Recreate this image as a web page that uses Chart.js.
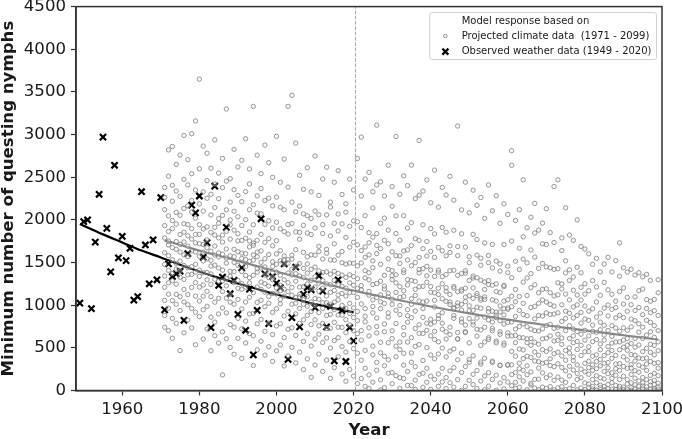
<!DOCTYPE html>
<html><head><meta charset="utf-8">
<script src="https://cdn.jsdelivr.net/npm/chart.js@4"></script>
<style>html,body{margin:0;padding:0;background:#fff}</style>
</head><body>
<canvas id="c" width="682" height="439" style="display:block;width:682px;height:439px"></canvas>
<script>
// ---------- DATA ----------
const xTicks = [1960, 1980, 2000, 2020, 2040, 2060, 2080, 2100];
const yTicks = [0, 500, 1000, 1500, 2000, 2500, 3000, 3500, 4000, 4500];
const cutoffYear = 2020.5;

const legendTitle = "Model response based on";
const legendProjected = "Projected climate data  (1971 - 2099)";
const legendObserved = "Observed weather data (1949 - 2020)";

// Observed weather data, one value per year from 1949 to 2020
const observedFirstYear = 1949;
const observedValues = [1025, 1980, 2000, 960, 1740, 2300, 2970, 1900, 1390, 2640,
  1555, 1807, 1523, 1667, 1060, 1100, 2330, 1706, 1251, 1765,
  1298, 2262, 945, 1485, 1336, 1368, 1398, 823, 1605, 2173,
  2083, 2280, 1562, 1733, 737, 2395, 1231, 1329, 1912, 1134,
  1290, 893, 1438, 706, 1188, 418, 940, 2013, 1368, 784,
  1336, 1258, 1205, 1485, 364, 855, 1445, 745, 1126, 1205,
  1181, 971, 1345, 1165, 745, 986, 348, 1298, 940, 340,
  738, 582];

// Fitted curve through observed data
const obsFitYears  = [1949, 1955, 1960, 1965, 1970, 1975, 1980, 1985, 1990, 1995, 2000, 2005, 2010, 2015, 2020];
const obsFitValues = [1952, 1830, 1735, 1640, 1560, 1475, 1395, 1320, 1255, 1190, 1125, 1070, 1012, 962, 916];

// Fitted curve through projected data
const projFitYears  = [1971, 1980, 1990, 2000, 2010, 2020, 2030, 2040, 2050, 2060, 2070, 2080, 2090, 2099];
const projFitValues = [1760, 1640, 1520, 1395, 1280, 1170, 1075, 985, 905, 830, 765, 705, 648, 598];

// Projected climate data: model runs per year (first array starts 1971)
const proj1970s = [
 [1615,2380,880,1342,1933,741,2120,1477,1056,1788,2264,1210],
 [2512,1129,1706,965,1863,2820,1408,702,1581,2047,1263,1752],
 [1370,2860,612,1898,1532,2219,1054,1675,2405,845,1287,1993],
 [1011,1746,2650,1423,788,2088,1655,1246,1951,2338,1489,1127],
 [2276,468,1517,1829,1099,2760,1328,1623,937,2054,1405,1714],
 [1590,2133,1185,676,2990,1466,1857,1038,2475,1302,1741,1955],
 [826,1692,2410,1355,1945,1124,2706,1570,1005,1813,2165,1438],
 [2541,1208,1776,733,2092,1451,3010,1635,1898,962,1362,2227],
 [1480,3160,918,1829,1265,2020,536,1624,2350,1107,1731,1389]];
const proj1980s = [
 [1944,1212,3650,1575,866,2188,1411,1720,2598,1049,1830,1338],
 [1106,2865,1519,1711,603,2103,1381,1893,946,2329,1237,1621],
 [2460,1384,987,1766,2781,1542,2254,1162,1918,720,1674,1298],
 [1632,466,2058,1245,1459,2606,859,1854,1101,2300,1526,1366],
 [1304,1913,802,2938,1469,1693,2144,1035,2421,1588,641,1822],
 [2249,1081,1567,1789,556,2548,1282,1961,1436,897,1613,2016],
 [1598,2721,1160,183,1821,1411,2053,968,2377,1285,1740,688],
 [1083,1866,3300,1313,2455,1494,910,2118,1658,1227,1553,607],
 [2208,1339,772,1579,1998,1125,2483,1396,1775,505,1942,1036],
 [1501,425,2827,1655,1264,2101,1012,1880,742,2354,1393,1568]];
const proj1990s = [
 [1198,2620,1626,846,1838,1469,2287,1068,1289,2037,612,1754],
 [2214,1548,376,1759,1187,2699,1395,957,1933,1253,723,1611],
 [1349,2951,1037,1603,2331,813,1786,1212,2003,557,1456,1535],
 [1514,1092,2597,1858,666,1322,2119,1683,897,2421,1261,1753],
 [1727,642,3330,1146,1944,1528,293,2178,1351,905,1589,1701],
 [1032,2758,1387,1567,477,2079,1761,1213,2282,782,1622,1428],
 [2367,1271,1636,834,2542,1058,1831,1438,578,2070,1186,1502],
 [1448,693,2227,1152,2876,1737,983,1356,1947,414,1544,1252],
 [1780,1224,2671,1397,788,2255,1024,1594,512,1989,1323,1102],
 [915,1905,1331,2498,1508,341,1696,1138,2165,656,1299,1454]];
const proj2000s = [
 [1387,2980,757,1756,1203,2267,958,1601,466,1972,1479,1133],
 [1521,1016,2441,1169,1895,783,1349,2149,534,1640,1232,1066],
 [1105,2713,873,1478,287,2118,1298,1577,620,1862,1530,1186],
 [2384,1158,404,1834,1377,3330,929,1945,1263,718,1533,1492],
 [1421,3460,1012,1208,2208,734,1586,506,1957,1355,1116,1540],
 [898,1651,2900,1281,323,1859,1090,2094,646,1454,1369,1023],
 [1773,1129,2523,450,1488,963,2162,1343,787,1854,1213,1096],
 [1010,2358,575,1619,1217,245,1936,1431,829,2071,1323,1062],
 [1376,665,2611,1100,1846,371,1483,988,2049,1248,1567,881],
 [1188,2329,521,1420,154,1828,927,1591,1037,2017,773,1291]];
const proj2010s = [
 [1586,996,2749,1212,604,2104,1447,298,1905,828,1334,1078],
 [1163,2286,660,1628,427,1690,1069,2060,913,1402,758,1259],
 [1384,785,2479,223,1541,1029,1199,1945,563,1840,1291,962],
 [2059,1109,617,2618,1391,357,1609,879,1655,1029,1250,726],
 [1531,892,2208,143,1364,1812,730,1151,498,2150,1003,1240],
 [1037,2441,799,1397,268,1720,1527,585,1173,1960,948,1290],
 [1586,395,2577,1063,1372,619,1870,885,2069,1120,742,1238],
 [883,1953,514,1497,1138,2298,193,1630,740,1353,998,1222],
 [1326,451,2189,1482,109,1795,962,678,2090,1107,830,1199],
 [2478,1021,573,1356,1680,247,1494,903,1925,768,1262,1147]];
const proj2020s = [
 [1149,490,1737,2351,856,1335,169,1988,700,1491,968,1234],
 [81,438,666,818,926,1092,1195,1310,1461,1707,1979,2720],
 [140,355,590,702,1015,1180,1230,1495,1640,1910,2280,2970],
 [48,260,470,805,870,960,1320,1405,1560,1683,2050,2479],
 [25,183,640,735,1118,1160,1297,1380,1590,1732,1850,2557],
 [98,418,520,910,985,1062,1242,1440,1520,1798,2140,2330],
 [237,330,675,750,850,1090,1254,1605,1700,1839,2410,3110],
 [5,125,443,565,960,1040,1120,1281,1480,1662,1960,2446],
 [33,290,400,690,780,1020,1190,1224,1350,1760,2020,2279],
 [203,360,560,860,910,1098,1140,1420,1545,1719,1880,2641]];
const proj2030s = [
 [79,210,609,700,1010,1070,1300,1345,1406,1626,2160,2390],
 [174,395,520,785,940,1150,1262,1356,1580,1840,2046,2978],
 [27,150,480,567,890,996,1090,1218,1490,1577,1760,2301],
 [140,298,436,653,739,1102,1170,1382,1411,1636,2049,2516],
 [60,223,568,800,876,948,1237,1300,1530,1648,1905,2402],
 [58,331,440,620,854,1010,1076,1290,1463,1699,1967,2642],
 [12,121,279,517,726,932,1113,1186,1279,1500,1779,2249],
 [189,537,670,771,1049,1216,1380,1418,1560,1760,2289,2931],
 [37,203,352,669,857,960,1037,1221,1428,1663,1942,2338],
 [97,261,503,706,789,1049,1269,1345,1455,1576,1746,2469]];
const proj2040s = [
 [12,168,417,641,778,836,1152,1219,1411,1631,1898,2201],
 [130,372,598,693,802,978,1057,1146,1338,1560,1836,2583],
 [49,193,428,571,842,880,1125,1199,1386,1411,1677,2149],
 [100,261,497,718,789,912,1076,1251,1334,1638,1911,2380],
 [23,151,393,603,687,1046,1163,1204,1359,1578,1856,2292],
 [91,230,461,656,742,1037,1008,1126,1403,1617,1696,2510],
 [40,268,487,879,972,846,960,1219,1200,1410,1878,2231],
 [128,360,602,606,681,991,1158,1027,1350,1581,1688,3100],
 [2,212,438,803,839,1010,943,1182,1164,1371,1837,2117],
 [48,281,690,679,767,1041,1199,1094,1376,1404,1681,2442]];
const proj2050s = [
 [119,331,363,558,937,844,1111,992,1290,1498,1568,2083],
 [69,190,407,802,769,1080,940,1202,1319,1341,1830,2348],
 [22,233,638,718,977,849,1112,1138,1322,1587,1770,2170],
 [111,309,333,528,710,1080,964,1060,1293,1468,1551,2262],
 [9,170,378,569,860,741,1097,1184,1068,1272,1730,2018],
 [51,209,618,598,961,826,922,1242,1289,1499,1583,2409],
 [129,329,344,727,701,802,1063,930,1234,1437,1712,2107],
 [2,180,579,559,855,919,882,1161,1048,1250,1517,2283],
 [89,293,296,688,659,921,818,1147,991,1400,1484,1960],
 [19,151,554,531,886,779,1048,959,1218,1233,1712,2188]];
const proj2060s = [
 [99,297,303,676,639,952,798,1064,967,1381,1458,2063],
 [2811,1752,301,982,56,640,1323,2640,458,187,1106,803],
 [720,25,1515,402,1993,868,211,1184,561,1040,96,645],
 [1102,487,2120,160,751,1418,38,939,320,1668,620,255],
 [2470,373,890,1271,112,618,1540,237,1021,782,476,1802],
 [184,1496,605,9,1113,402,1908,747,289,876,1319,560],
 [973,64,1370,529,2031,218,720,1205,388,610,1647,84],
 [2193,840,346,1564,131,987,1240,566,28,702,1846,452],
 [413,1145,8,1880,697,262,1431,880,543,133,1022,338],
 [1962,605,1186,40,873,319,1490,207,1061,724,478,1720]];
const proj2070s = [
 [151,1449,762,2131,457,910,23,1192,613,330,1037,1712],
 [1851,487,1146,46,775,292,1439,640,181,1009,372,892],
 [2391,119,896,1420,580,8,1108,431,1735,280,729,990],
 [313,1122,2470,742,31,1428,588,158,911,449,1263,660],
 [45,122,405,540,615,810,1005,1190,1250,1640,1789,270],
 [9,230,355,702,845,930,1130,1378,2141,95,470,1520],
 [170,285,440,499,760,1062,1290,1822,22,610,905,1415],
 [60,350,395,640,720,980,1175,1760,240,560,850,1330],
 [130,200,480,575,690,1120,1445,2000,9,300,880,1003],
 [30,250,410,530,790,915,1210,1689,150,660,1060,1380]];
const proj2080s = [
 [11,89,318,455,705,838,1251,1658,220,590,990,1130],
 [37,512,190,1602,344,823,75,640,1170,268,455,931],
 [402,15,766,1288,129,573,958,301,47,693,1479,236],
 [681,1549,256,92,1037,418,5,860,340,597,173,1214],
 [149,907,33,478,1390,712,288,62,1116,545,364,801],
 [1267,224,590,8,764,411,1483,135,966,320,47,650],
 [516,71,1180,327,20,874,1561,443,197,703,1002,266],
 [92,634,1389,208,952,15,469,1128,377,760,142,556],
 [851,310,11,1522,568,179,1047,60,412,733,254,972],
 [1731,478,129,694,21,1160,315,882,570,235,48,1340]];
const proj2090s = [
 [282,1014,40,590,1439,167,735,395,11,855,508,1202],
 [610,128,1388,471,9,929,260,1092,77,706,359,531],
 [33,746,304,1421,188,553,2,1005,421,90,837,262],
 [1353,413,67,818,232,1098,16,610,345,938,145,508],
 [215,973,7,533,1381,111,684,381,49,1170,296,782],
 [742,55,1189,274,889,19,456,1332,152,611,373,91],
 [380,1066,128,5,650,1361,236,823,44,494,962,310],
 [61,541,1290,340,16,799,177,1046,447,103,688,913],
 [935,201,22,1068,418,623,3,319,760,120,529,71],
 [262,1298,86,467,14,879,327,1145,570,173,702,40]];
const projectedBlocks = [[1971, proj1970s], [1980, proj1980s], [1990, proj1990s], [2000, proj2000s],
  [2010, proj2010s], [2020, proj2020s], [2030, proj2030s], [2040, proj2040s], [2050, proj2050s],
  [2060, proj2060s], [2070, proj2070s], [2080, proj2080s], [2090, proj2090s]];

// ---------- BUILD ----------
const projPoints = [];
projectedBlocks.forEach(([first, rows]) => rows.forEach((vals, i) => vals.forEach(v => projPoints.push({x: first + i, y: v}))));
const obsPoints = observedValues.map((v, i) => ({x: observedFirstYear + i, y: v}));
const obsFit = obsFitYears.map((x, i) => ({x, y: obsFitValues[i]}));
const projFit = projFitYears.map((x, i) => ({x, y: projFitValues[i]}));

const FONT = "'DejaVu Sans', sans-serif";
Chart.defaults.font.family = FONT;
Chart.defaults.color = '#1a1a1a';

const framePlugin = {
  id: 'frame',
  afterDraw(chart) {
    const {ctx, chartArea: a} = chart;
    ctx.save();
    ctx.strokeStyle = '#333';
    ctx.lineWidth = 1.5;
    ctx.strokeRect(a.left, a.top, a.right - a.left, a.bottom - a.top);
    ctx.restore();
  }
};

const legendPlugin = {
  id: 'customLegend',
  afterDraw(chart) {
    const {ctx, chartArea: a} = chart;
    ctx.save();
    ctx.font = "10px " + FONT;
    const tw = Math.max(ctx.measureText(legendTitle).width, ctx.measureText(legendProjected).width, ctx.measureText(legendObserved).width);
    const w = 32 + tw + 5, h = 47;
    const right = a.right - 5.5, top = a.top + 6;
    const left = right - w;
    ctx.beginPath();
    ctx.roundRect(left, top, w, h, 2.5);
    ctx.fillStyle = 'rgba(255,255,255,0.8)';
    ctx.fill();
    ctx.strokeStyle = '#d0d0d0';
    ctx.lineWidth = 1;
    ctx.stroke();
    ctx.fillStyle = '#1a1a1a';
    ctx.textBaseline = 'middle';
    ctx.textAlign = 'left';
    const tx = left + 32;
    ctx.fillText(legendTitle, tx, top + 8.5);
    ctx.fillText(legendProjected, tx, top + 23.5);
    ctx.fillText(legendObserved, tx, top + 39);
    const mx = left + 15.7;
    ctx.beginPath();
    ctx.arc(mx, top + 23.5, 1.8, 0, Math.PI * 2);
    ctx.fillStyle = 'rgba(230,230,230,0.4)';
    ctx.fill();
    ctx.strokeStyle = 'rgba(120,120,120,0.75)';
    ctx.lineWidth = 1;
    ctx.stroke();
    ctx.beginPath();
    const my = top + 39, d = 3;
    ctx.moveTo(mx - d, my - d); ctx.lineTo(mx + d, my + d);
    ctx.moveTo(mx - d, my + d); ctx.lineTo(mx + d, my - d);
    ctx.strokeStyle = '#000';
    ctx.lineWidth = 2.2;
    ctx.stroke();
    ctx.restore();
  }
};

new Chart(document.getElementById('c'), {
  type: 'scatter',
  data: {
    datasets: [
      {type: 'line', data: [{x: cutoffYear, y: yTicks[0]}, {x: cutoffYear, y: yTicks[yTicks.length - 1]}],
        borderColor: '#aaaaaa', borderWidth: 1, borderDash: [3.7, 1.6], pointRadius: 0, fill: false},
      {data: projPoints, pointStyle: 'circle', pointRadius: 2.2, pointBorderWidth: 1,
        pointBorderColor: 'rgba(120,120,120,0.75)', pointBackgroundColor: 'rgba(235,235,235,0.3)'},
      {type: 'line', data: projFit, borderColor: '#888888', borderWidth: 2.2, pointRadius: 0,
        cubicInterpolationMode: 'monotone', fill: false},
      {type: 'line', data: obsFit, borderColor: '#000000', borderWidth: 2.2, pointRadius: 0,
        cubicInterpolationMode: 'monotone', fill: false},
      {data: obsPoints, pointStyle: 'crossRot', pointRadius: 4.4, pointBorderWidth: 2.2,
        pointBorderColor: '#000000', pointBackgroundColor: '#000000'}
    ]
  },
  options: {
    responsive: false, animation: false, devicePixelRatio: 1,
    layout: {padding: {top: 5.3, right: 20, left: 0, bottom: 0}},
    plugins: {legend: {display: false}, tooltip: {enabled: false}},
    scales: {
      x: {
        type: 'linear', min: 1948, max: 2100,
        afterBuildTicks: s => { s.ticks = xTicks.map(v => ({value: v})); },
        afterFit: s => { s.height = 48.5; s.paddingLeft = 0; s.paddingRight = 0; },
        ticks: {font: {size: 16.6}, color: '#1a1a1a', padding: 4, maxRotation: 0, autoSkip: false,
          callback: v => String(v)},
        grid: {drawOnChartArea: false, drawTicks: true, tickLength: 5, tickColor: '#333', tickWidth: 1.2},
        border: {display: true, color: '#333', width: 1.5},
        title: {display: true, text: 'Year', font: {size: 16.6, weight: 'bold', lineHeight: 1}, color: '#1a1a1a', padding: 0}
      },
      y: {
        type: 'linear', min: 0, max: 4500,
        afterBuildTicks: s => { s.ticks = yTicks.map(v => ({value: v})); },
        afterFit: s => { s.width = 76; s.paddingTop = 0; s.paddingBottom = 0; },
        ticks: {font: {size: 16.6}, color: '#1a1a1a', padding: 5, autoSkip: false, callback: v => String(v)},
        grid: {drawOnChartArea: false, drawTicks: true, tickLength: 5, tickColor: '#333', tickWidth: 1.2},
        border: {display: true, color: '#333', width: 1.5},
        title: {display: true, text: 'Minimum number of questing nymphs', font: {size: 16.6, weight: 'bold', lineHeight: 1}, color: '#1a1a1a', padding: 0}
      }
    }
  },
  plugins: [framePlugin, legendPlugin]
});
</script>
</body></html>
